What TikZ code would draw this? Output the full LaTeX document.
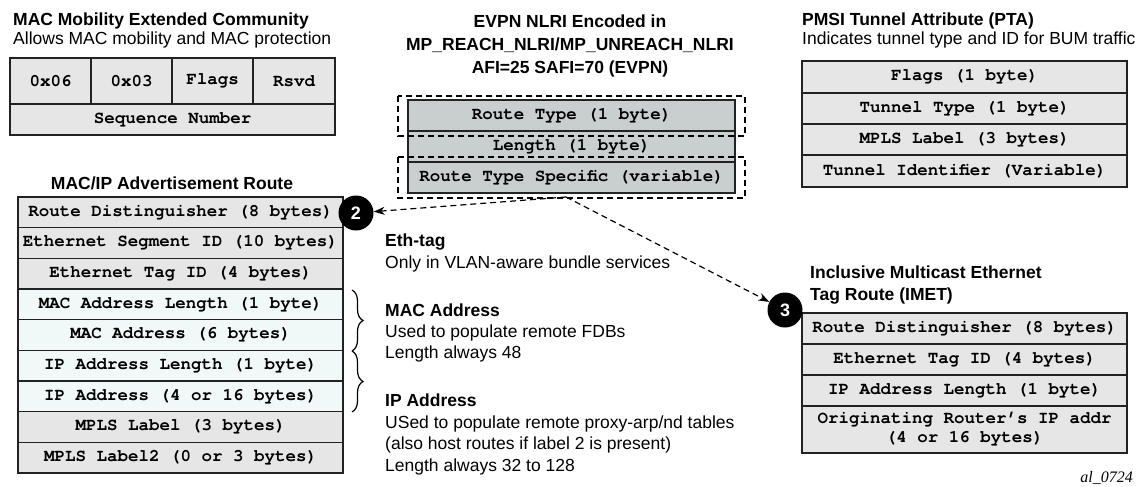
\documentclass[tikz,border=0pt]{standalone}
\usepackage{fontspec}
\setmainfont{Liberation Sans}
\newfontfamily\fieldfont{texgyrecursor}[Extension=.otf, UprightFont=*-regular, BoldFont=*-bold]
\newfontfamily\tagserif{Liberation Serif}
\usetikzlibrary{arrows.meta,decorations.pathreplacing}
\definecolor{fillg}{RGB}{230,230,230}
\definecolor{fillc}{RGB}{241,248,248}
\definecolor{fille}{RGB}{201,207,207}
\definecolor{linec}{RGB}{34,34,34}
\begin{document}
\begin{tikzpicture}[x=1pt,y=-1pt,
  txt/.style={anchor=base west, inner sep=0pt, font=\fontsize{17.5}{21}\selectfont},
  ttl/.style={anchor=base west, inner sep=0pt, font=\fontsize{17.5}{21}\selectfont\bfseries},
  ctl/.style={anchor=base, inner sep=0pt, font=\fontsize{17.5}{21}\selectfont\bfseries},
  cell/.style={draw=linec, line width=1.6pt, fill=fillg, inner sep=0pt,
    font=\fontsize{17.5}{19}\selectfont\fieldfont\bfseries, minimum height=31pt, align=center},
  badge/.style={circle, fill=black, text=white, inner sep=0pt, minimum size=35pt,
    font=\fontsize{18}{20}\selectfont\bfseries},
  dbox/.style={draw=black, line width=1.2pt, dash pattern=on 6pt off 4pt},
  darrow/.style={draw=black, line width=1.2pt, dash pattern=on 6pt off 4pt,
    -{Stealth[length=11pt,width=8pt]}},
  bracestyle/.style={draw=black, line width=1.2pt, decorate,
    decoration={brace, amplitude=11pt}}
]
\useasboundingbox (0,0) rectangle (1140,487);

% ---------- MAC Mobility Extended Community ----------
\node[ttl] (mmtitle) at (13,26) {MAC Mobility Extended Community};
\node[txt] (mmsub) at (13,45) {Allows MAC mobility and MAC protection};
\node[cell, minimum width=81pt, minimum height=46pt] (mm1) at (50.5,81) {0x06};
\node[cell, minimum width=81pt, minimum height=46pt] (mm2) at (131.5,81) {0x03};
\node[cell, minimum width=81pt, minimum height=46pt] (mm3) at (212.5,81) {Flags};
\node[cell, minimum width=82pt, minimum height=46pt] (mm4) at (294,81) {Rsvd};
\node[cell, minimum width=325pt, minimum height=31pt] (mm5) at (172.5,119.5) {Sequence Number};

% ---------- EVPN NLRI ----------
\node[ctl] (ev1) at (570,28) {EVPN NLRI Encoded in};
\node[ctl] (ev2) at (570,51) {MP\_REACH\_NLRI/MP\_UNREACH\_NLRI};
\node[ctl] (ev3) at (570,74) {AFI=25 SAFI=70 (EVPN)};
\node[cell, fill=fille, minimum width=327pt] (rt) at (571.5,115.5) {Route Type (1 byte)};
\node[cell, fill=fille, minimum width=327pt] (len) at (571.5,146.5) {Length (1 byte)};
\node[cell, fill=fille, minimum width=327pt] (rts) at (571.5,177.5) {Route Type Specific (variable)};
\draw[dbox] (398,96) rectangle (745,136);
\draw[dbox] (398,157) rectangle (745,198);

% ---------- PMSI Tunnel Attribute ----------
\node[ttl] (pmtitle) at (802,26) {PMSI Tunnel Attribute (PTA)};
\node[txt] (pmsub) at (802,45) {Indicates tunnel type and ID for BUM traffic};
\node[cell, minimum width=325pt, minimum height=32pt] (pm1) at (964.5,77) {Flags (1 byte)};
\node[cell, minimum width=325pt] (pm2) at (964.5,108.5) {Tunnel Type (1 byte)};
\node[cell, minimum width=325pt] (pm3) at (964.5,139.5) {MPLS Label (3 bytes)};
\node[cell, minimum width=325pt, minimum height=32pt] (pm4) at (964.5,171) {Tunnel Identifier (Variable)};

% ---------- MAC/IP Advertisement Route ----------
\node[ctl] (mititle) at (172,189) {MAC/IP Advertisement Route};
\foreach \t/\c [count=\i from 0] in {
  Route Distinguisher (8 bytes)/fillg,
  Ethernet Segment ID (10 bytes)/fillg,
  Ethernet Tag ID (4 bytes)/fillg,
  MAC Address Length (1 byte)/fillc,
  MAC Address (6 bytes)/fillc,
  IP Address Length (1 byte)/fillc,
  IP Address (4 or 16 bytes)/fillc,
  MPLS Label (3 bytes)/fillg,
  MPLS Label2 (0 or 3 bytes)/fillg}
  \node[cell, fill=\c, minimum width=325pt, minimum height=30.7pt] (mi\i) at (180.5,{212.35+30.67*\i}) {\t};
\coordinate (brA) at (352,290);
\coordinate (brB) at (352,351);
\coordinate (brC) at (352,412);
\draw[bracestyle] (brA) -- (brB);
\draw[bracestyle] (brB) -- (brC);

% ---------- Middle notes ----------
\node[ttl] (n1) at (385,246) {Eth-tag};
\node[txt] (n2) at (385,268) {Only in VLAN-aware bundle services};
\node[ttl] (n3) at (385,316) {MAC Address};
\node[txt] (n4) at (385,337) {Used to populate remote FDBs};
\node[txt] (n5) at (385,358) {Length always 48};
\node[ttl] (n6) at (385,406) {IP Address};
\node[txt] (n7) at (385,428) {USed to populate remote proxy-arp/nd tables};
\node[txt] (n8) at (385,449) {(also host routes if label 2 is present)};
\node[txt] (n9) at (385,471) {Length always 32 to 128};

% ---------- IMET ----------
\node[ttl] (imt1) at (810,278) {Inclusive Multicast Ethernet};
\node[ttl] (imt2) at (810,300) {Tag Route (IMET)};
\node[cell, minimum width=325pt] (im1) at (964.5,328.5) {Route Distinguisher (8 bytes)};
\node[cell, minimum width=325pt] (im2) at (964.5,359.5) {Ethernet Tag ID (4 bytes)};
\node[cell, minimum width=325pt] (im3) at (964.5,390.5) {IP Address Length (1 byte)};
\node[cell, minimum width=325pt, minimum height=47pt] (im4) at (964.5,429.5) {Originating Router’s IP addr\\(4 or 16 bytes)};

% ---------- Badges and arrows ----------
\node[badge] (b2) at (356,213) {2};
\node[badge] (b3) at (785,310) {3};
\coordinate (src) at (566,197);
\draw[darrow] (src) -- (b2);
\draw[darrow] (src) -- (b3);

\node[anchor=base east, inner sep=0pt, font=\tagserif\itshape\fontsize{16}{18}\selectfont] (tag) at (1133,482) {al\_0724};
\end{tikzpicture}
\end{document}
